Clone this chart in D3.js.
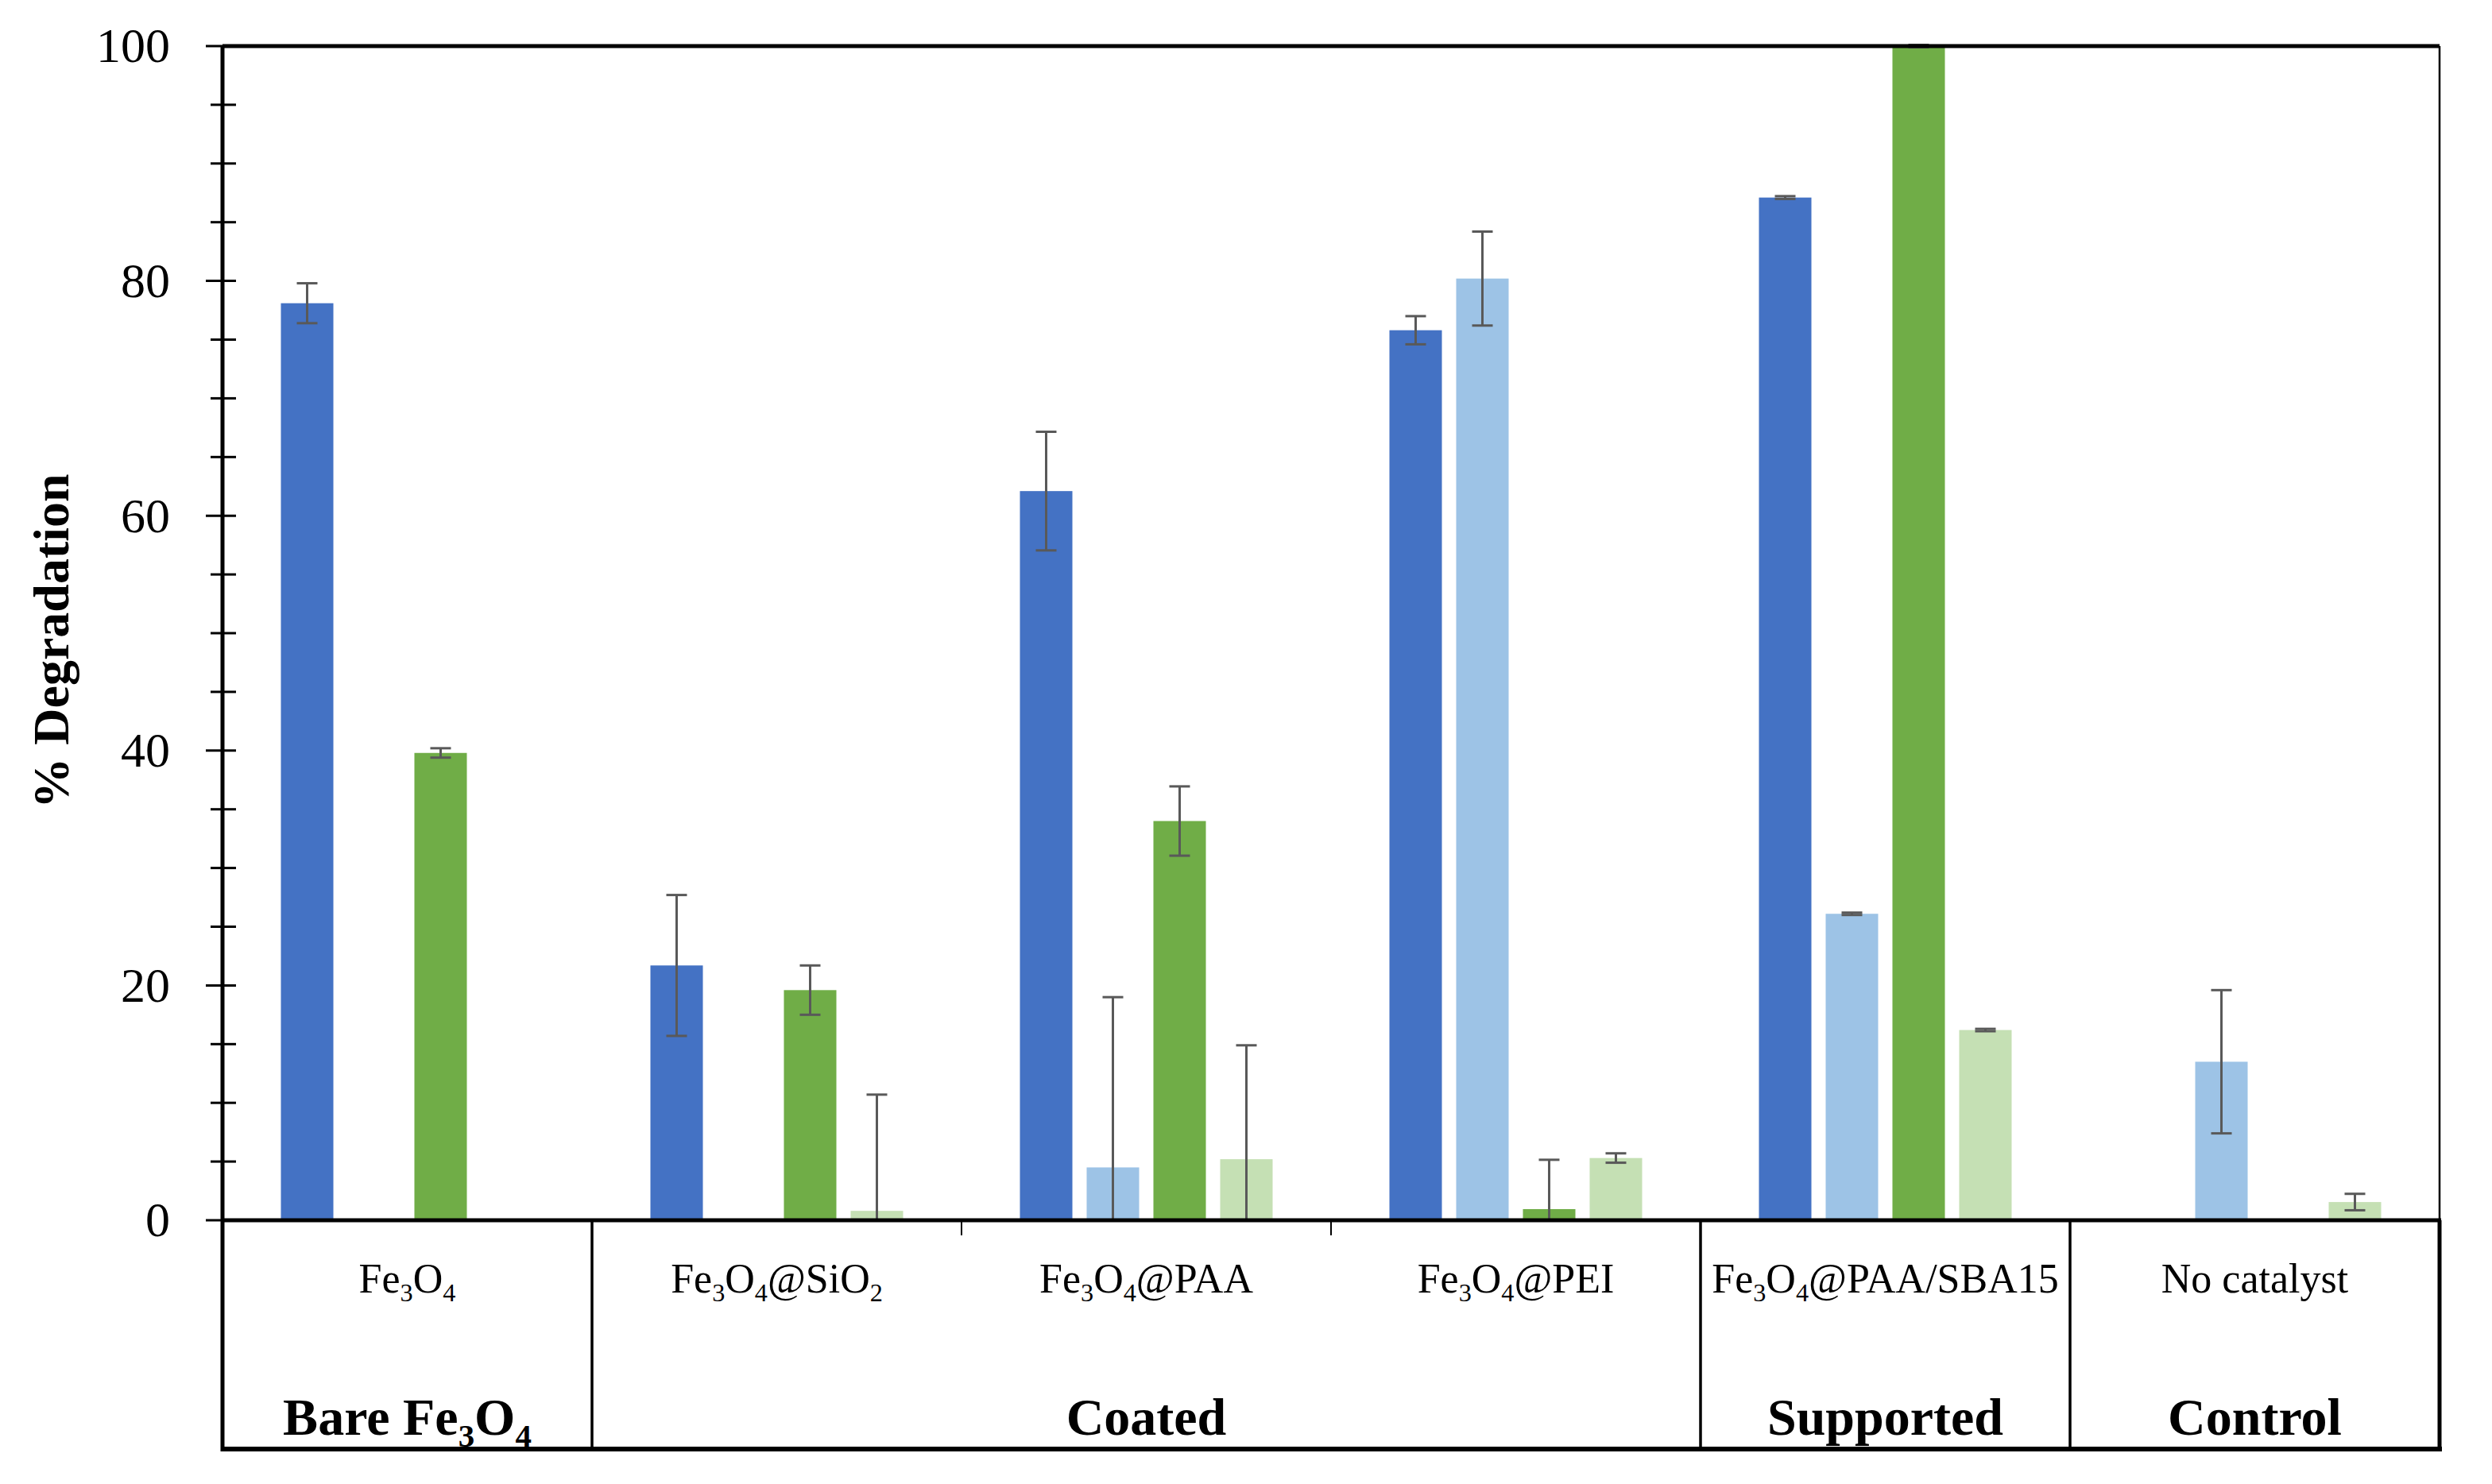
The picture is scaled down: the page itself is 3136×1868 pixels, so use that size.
<!DOCTYPE html>
<html>
<head>
<meta charset="utf-8">
<script src="https://cdn.jsdelivr.net/npm/d3@7"></script>
<style>
body { margin: 0; background: #fff; }
text { font-family: "Liberation Serif", "Times New Roman", serif; fill: #000; }
</style>
</head>
<body>
<svg width="3136" height="1868"></svg>
<script>
// categories on the x axis and the groups that sit under them
var categories = ["Fe3O4", "Fe3O4@SiO2", "Fe3O4@PAA", "Fe3O4@PEI", "Fe3O4@PAA/SBA15", "No catalyst"]
var groups = ["Bare Fe3O4", "Coated", "Supported", "Control"]
var groupSize = [1, 3, 1, 1]

var series = ["Series 1", "Series 2", "Series 3", "Series 4"]
var colors = ["#4472C4", "#9DC3E6", "#70AD47", "#C5E0B4"]

// % degradation and error (+/-)
var s1 = [78.1, 21.7, 62.1, 75.8, 87.1, 0]
var s1err = [1.7, 6.0, 5.05, 1.2, 0.12, 0]
var s2 = [0, 0, 4.5, 80.2, 26.1, 13.5]
var s2err = [0, 0, 14.5, 4.0, 0.1, 6.1]
var s3 = [39.8, 19.6, 34.0, 0.95, 100, 0]
var s3err = [0.4, 2.1, 2.95, 4.2, 0.1, 0]
var s4 = [0, 0.8, 5.2, 5.3, 16.2, 1.55]
var s4err = [0, 9.9, 9.7, 0.4, 0.1, 0.7]

var yTicks = [0, 20, 40, 60, 80, 100]

var vals = [s1, s2, s3, s4]
var errs = [s1err, s2err, s3err, s4err]

// (window.top is read only, so no plain "top" here)
var pLeft = 280, pRight = 3070, pTop = 58, pZero = 1536, pBottom = 1824

var svg = d3.select("svg")

var x0 = d3.scaleBand().domain(categories).range([pLeft, pRight]).padding(0)
var x1 = d3.scaleBand().domain(series).range([0, x0.bandwidth()])
    .paddingInner(0.214).paddingOuter(0.875)
var y = d3.scaleLinear().domain([0, 100]).range([pZero, pTop])

var rows = []
series.forEach(function(s, j) {
    categories.forEach(function(c, i) {
        rows.push({ cat: c, s: s, v: vals[j][i], e: errs[j][i], color: colors[j] })
    })
})

// bars
svg.append("g").selectAll("rect").data(rows).join("rect")
    .attr("x", function(d) { return x0(d.cat) + x1(d.s) })
    .attr("y", function(d) { return y(d.v) })
    .attr("width", x1.bandwidth())
    .attr("height", function(d) { return y(0) - y(d.v) })
    .attr("fill", function(d) { return d.color })

// error bars, cut off at the zero line like excel does
var eb = svg.append("g").attr("stroke", "#595959").attr("stroke-width", 3)
rows.filter(function(d) { return d.e > 0 }).forEach(function(d) {
    var cx = x0(d.cat) + x1(d.s) + x1.bandwidth() / 2
    var hi = d.v + d.e, lo = Math.max(0, d.v - d.e)
    eb.append("line").attr("x1", cx).attr("x2", cx).attr("y1", y(hi)).attr("y2", y(lo))
    eb.append("line").attr("x1", cx - 13).attr("x2", cx + 13).attr("y1", y(hi)).attr("y2", y(hi))
    if (d.v - d.e >= 0)
        eb.append("line").attr("x1", cx - 13).attr("x2", cx + 13).attr("y1", y(lo)).attr("y2", y(lo))
})

// y axis labels
var yAxis = svg.append("g")
    .attr("transform", "translate(" + pLeft + ",0)")
    .call(d3.axisLeft(y).tickValues(yTicks).tickSize(0).tickPadding(66))
yAxis.select(".domain").remove()
yAxis.selectAll("text")
    .style("font-family", '"Liberation Serif", "Times New Roman", serif')
    .style("font-size", "62px")
    .attr("fill", "#000")

// crossing tick marks, major every 20, minor every 5
svg.append("g").attr("stroke", "#000").attr("stroke-width", 3)
    .selectAll("line").data(d3.range(0, 101, 5)).join("line")
    .attr("x1", function(d) { return d % 20 == 0 ? pLeft - 21 : pLeft - 15 })
    .attr("x2", pLeft + 17)
    .attr("y1", function(d) { return y(d) })
    .attr("y2", function(d) { return y(d) })

// frame of plot and the table below
var frame = svg.append("g").attr("stroke", "#000").attr("fill", "none")
function seg(ax, ay, bx, by, w) {
    return frame.append("line").attr("x1", ax).attr("y1", ay).attr("x2", bx).attr("y2", by)
        .attr("stroke-width", w)
}
seg(pLeft, pTop, pRight, pTop, 5)
seg(pRight, pTop, pRight, pZero, 2.5)
seg(pLeft, pTop, pLeft, pBottom + 3, 5)
seg(pLeft - 2, pZero, pRight + 2, pZero, 5)
seg(pLeft - 2, pBottom, pRight + 3, pBottom, 6)
seg(pRight, pZero, pRight, pBottom + 3, 5)

// group dividers and small ticks between categories inside a group
var groupPos = []
var gi = 0
groupSize.forEach(function(n, g) {
    var gx0 = x0(categories[gi]), gx1 = x0(categories[gi + n - 1]) + x0.bandwidth()
    if (gx0 > pLeft) seg(gx0, pZero, gx0, pBottom, 3.5)
    for (var k = 1; k < n; k++) {
        var tx = x0(categories[gi + k])
        seg(tx, pZero, tx, pZero + 19, 2)
    }
    groupPos.push({ name: groups[g], cx: (gx0 + gx1) / 2 })
    gi += n
})

// a digit right after Fe or O is a subscript
function isSub(str, i) {
    return /\d/.test(str[i]) && i > 0 && (str[i - 1] == "e" || str[i - 1] == "O")
}
function formula(sel, str, size) {
    var shift = size * 0.22
    var i = 0
    var down = false
    while (i < str.length) {
        var j = i
        var sub = isSub(str, i)
        while (j < str.length && isSub(str, j) == sub) j++
        var t = sel.append("tspan").text(str.slice(i, j))
        if (sub) { t.attr("font-size", size * 0.62).attr("dy", shift); down = true }
        else if (down) { t.attr("dy", -shift); down = false }
        i = j
    }
}

categories.forEach(function(c) {
    var t = svg.append("text")
        .attr("x", x0(c) + x0.bandwidth() / 2)
        .attr("y", 1627)
        .attr("text-anchor", "middle")
        .attr("font-size", 52)
    formula(t, c, 52)
})

groupPos.forEach(function(g) {
    var t = svg.append("text")
        .attr("x", g.cx)
        .attr("y", 1806)
        .attr("text-anchor", "middle")
        .attr("font-size", 66)
        .attr("font-weight", "bold")
    formula(t, g.name, 66)
})

svg.append("text")
    .attr("transform", "translate(86," + (y(50) + 10) + ") rotate(-90)")
    .attr("text-anchor", "middle")
    .attr("font-size", 64)
    .attr("font-weight", "bold")
    .text("% Degradation")
</script>
</body>
</html>
